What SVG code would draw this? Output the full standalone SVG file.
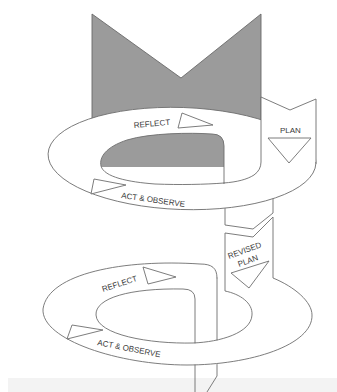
<svg xmlns="http://www.w3.org/2000/svg" width="337" height="392" viewBox="0 0 337 392">
  <style>
    .ln { fill: none; stroke: #6e6e6e; stroke-width: 0.9; stroke-linejoin: round; stroke-linecap: round; }
    .wf { fill: #ffffff; stroke: #6e6e6e; stroke-width: 0.9; stroke-linejoin: round; }
    .wn { fill: #ffffff; stroke: none; }
    .gray { fill: #9b9b9b; stroke: #6a6a6a; stroke-width: 0.9; stroke-linejoin: round; }
    .tri { fill: #ffffff; stroke: #6e6e6e; stroke-width: 0.9; stroke-linejoin: round; }
    .lbl { font-family: "Liberation Sans", Arial, sans-serif; font-size: 8px; fill: #3a3a3a; }
  </style>
  <defs>
    <path id="hole1" d="M224,183 L224,146 Q224,134 212,134 C190,132.5 150,133 127,140 C106,147 99,157 101,166 C104,177 128,182 155,184 C180,185 205,184.5 224,183 Z"/>
    <clipPath id="topClip"><rect x="0" y="0" width="337" height="167"/></clipPath>
  </defs>

  <rect x="0" y="0" width="337" height="392" fill="#ffffff"/>
  <rect x="8" y="378" width="329" height="14" fill="#f3f3f3"/>

  <!-- back wall -->
  <g id="back-wall">
    <polygon class="gray" points="92,14 181,78 261,14 261,126 92,126"/>
  </g>

  <!-- band between the two cycles (behind upper ring) -->
  <g id="link-band">
    <polygon class="wf" points="225,170 273,170 273,213 253,229 225,225"/>
  </g>

  <!-- upper cycle -->
  <g id="cycle1">
    <ellipse class="wf" cx="182" cy="158.5" rx="134" ry="51" transform="rotate(2 182 158.5)"/>
    <use href="#hole1" fill="#ffffff"/>
    <use href="#hole1" fill="#9b9b9b" clip-path="url(#topClip)"/>
    <use href="#hole1" class="ln"/>
  </g>

  <!-- plan band -->
  <g id="plan">
    <polygon class="wn" points="261,97 290,110 316,99 316,162 261,170"/>
    <path class="ln" d="M224,183 C237,182 247,179.5 254,175 Q261,170 261,162 L261,97 L290,110 L316,99 L316,163.5"/>
  </g>

  <!-- lower cycle with revised plan band -->
  <g id="cycle2">
    <path class="ln" d="M217,278 C217,268 212,264 200,264 C125,259 48,273 43,309 C41,340 120,365 187,365 C250,365 313,345 312,315 C312,302 295,287 273,278 L273,217 L253,237 L225,233 L225,291 C240,294 253,303 252,315 C251,333 220,342 193,343 C150,344 97,335 96,315 C95,298 130,288 183,289 Q195,289 195,299 L195,343"/>
    <path class="ln" d="M217,278 L217,340"/>
    <path class="ln" d="M195,365 L195,392 M217,364.5 L217,376 L207,392"/>
  </g>

  <!-- arrows -->
  <g id="arrows">
    <polygon class="tri" points="182,113 213,125 178,128"/>
    <polygon class="tri" points="94,179 126,185 91,194"/>
    <polygon class="tri" points="268,138 311,138 289,163"/>
    <polygon class="tri" points="231,273 269,261 249,288"/>
    <polygon class="tri" points="143,267 176,277 148,284"/>
    <polygon class="tri" points="72,325 103,330 67,339"/>
  </g>

  <!-- labels -->
  <g id="labels">
    <text class="lbl" x="134" y="128" transform="rotate(-5 134 128)">REFLECT</text>
    <text class="lbl" x="121" y="198" transform="rotate(8 121 198)">ACT &amp; OBSERVE</text>
    <text class="lbl" x="280" y="133">PLAN</text>
    <text class="lbl" x="229" y="259" transform="rotate(-20 229 259)">REVISED</text>
    <text class="lbl" x="239" y="267" transform="rotate(-20 239 267)">PLAN</text>
    <text class="lbl" x="103" y="292" transform="rotate(-18 103 292)">REFLECT</text>
    <text class="lbl" x="97" y="345" transform="rotate(11 97 345)">ACT &amp; OBSERVE</text>
  </g>
</svg>
